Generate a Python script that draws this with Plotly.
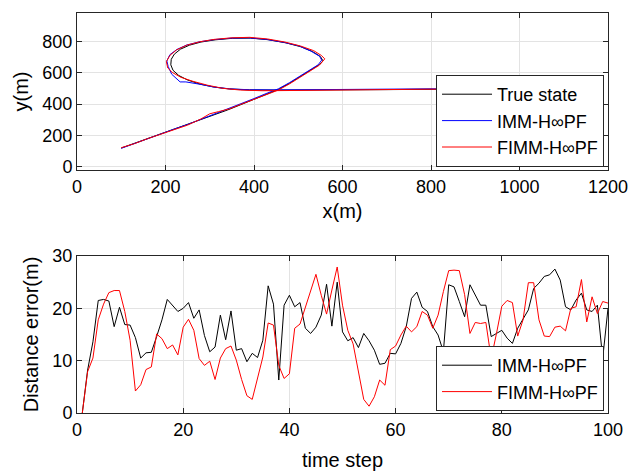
import plotly.graph_objects as go

# ---------------- top plot: trajectories ----------------
true_x = [100,130,160,190,220,250,280,310,340,370,400,430,455,480,505,530,548,556,550,532,506,472,432,392,352,312,280,254,234,220,213,212,217,230,250,278,310,345,390,450,500,600,700,800,900,1000,1030]
true_y = [120,150,180,212,240,268,300,330,362,396,432,466,493,532,576,622,652,675,703,735,765,790,810,820,819,809,795,775,750,718,685,650,615,582,553,527,508,496,490,489,489,490,492,494,495,496,496]

imm_x = [100,130,160,190,220,250,280,310,340,370,400,430,455,480,505,530,545,553,548,528,502,468,428,388,348,308,276,248,226,210,203,206,214,233,246,278,310,345,390,450,500,600,700,800,900,1012]
imm_y = [118,150,182,212,241,270,302,335,366,400,435,470,497,536,580,625,650,680,705,738,770,793,812,822,820,810,796,776,748,715,675,640,590,541,541,526,508,497,491,490,491,496,498,497,497,503]

fimm_x = [100,130,160,190,220,250,280,300,320,345,370,400,430,455,480,505,530,548,560,552,535,505,470,430,390,350,310,278,248,225,210,202,205,215,235,262,295,330,370,420,470,500,600,700,800,900,1009]
fimm_y = [122,148,180,210,238,266,305,338,352,370,398,430,462,489,528,572,617,648,688,710,740,770,795,815,825,822,812,797,775,745,710,670,630,602,570,545,520,500,489,485,486,487,490,493,495,495,497]

# ---------------- bottom plot: distance error ----------------
steps = list(range(1, 101))
err_imm = [0,8.2,13.6,21.5,21.7,21.4,16.5,20.2,16.9,16.8,
           14.4,10.5,11.5,11.6,14.6,17.8,21.7,20.5,19.4,20.0,
           21.1,18.1,19.7,14.8,11.7,12.6,18.7,14.0,19.5,12.0,
           12.3,9.8,11.4,10.6,13.9,24.3,20.8,6.3,20.6,22.5,
           20.3,21.1,16.2,15.2,16.4,18.7,24.6,16.6,25.0,15.5,
           13.8,14.4,12.5,15.2,13.8,12.0,9.3,9.5,11.4,11.3,
           13.3,16.5,21.9,23.1,20.2,19.4,16.5,14.9,11.7,24.5,
           24.1,21.3,18.4,24.5,22.6,20.6,20.6,14.6,15.2,15.8,
           14.3,13.3,16.2,18.1,19.7,23.8,24.8,26.1,26.4,27.5,
           25.4,20.3,19.7,21.6,22.9,19.7,19.4,20.6,10.4,20.0]
err_fimm = [0,7.9,10.5,17.8,20.8,23.0,23.4,23.4,19.4,13.9,
            4.2,5.4,8.3,8.8,15.1,14.2,12.3,13.0,11.1,16.4,
            17.9,15.8,10.4,9.1,9.9,6.4,10.5,12.3,12.8,10.1,
            6.4,3.3,2.6,6.6,10.7,17.2,16.8,9.1,6.6,7.5,
            16.2,17.0,20.2,23.5,26.5,22.5,18.9,23.5,27.9,20.6,
            15.8,13.2,7.5,2.6,1.3,3.1,6.3,5.3,12.1,12.8,
            14.9,16.6,15.5,16.5,19.4,18.7,16.2,18.7,23.2,27.2,
            27.3,27.2,22.6,15.2,17.3,17.1,17.3,10.4,15.2,20.4,
            21.5,21.1,14.7,17.8,24.9,24.9,17.8,14.7,14.6,16.4,
            16.6,15.7,20.0,20.3,25.5,17.4,22.2,19.0,21.3,21.0]

top_xticks = [0, 200, 400, 600, 800, 1000, 1200]
top_yticks = [0, 200, 400, 600, 800]
bot_xticks = [0, 20, 40, 60, 80, 100]
bot_yticks = [0, 10, 20, 30]

FONT = "Liberation Sans, Arial, Helvetica, sans-serif"
AX = "#262626"
GRID = "#e3e3e3"

fig = go.Figure()
fig.add_trace(go.Scatter(x=true_x, y=true_y, mode="lines", name="True state",
                         line=dict(color="#000000", width=1), xaxis="x", yaxis="y", legend="legend"))
fig.add_trace(go.Scatter(x=imm_x, y=imm_y, mode="lines", name="IMM-H∞PF",
                         line=dict(color="#0000ff", width=1), xaxis="x", yaxis="y", legend="legend"))
fig.add_trace(go.Scatter(x=fimm_x, y=fimm_y, mode="lines", name="FIMM-H∞PF",
                         line=dict(color="#ff0000", width=1), xaxis="x", yaxis="y", legend="legend"))
fig.add_trace(go.Scatter(x=steps, y=err_imm, mode="lines", name="IMM-H∞PF",
                         line=dict(color="#000000", width=1), xaxis="x2", yaxis="y2", legend="legend2"))
fig.add_trace(go.Scatter(x=steps, y=err_fimm, mode="lines", name="FIMM-H∞PF",
                         line=dict(color="#ff0000", width=1), xaxis="x2", yaxis="y2", legend="legend2"))

axcommon = dict(showline=True, linecolor=AX, linewidth=1, mirror="ticks", automargin=False,
                ticks="inside", ticklen=5, tickcolor=AX, showgrid=True, gridcolor=GRID,
                gridwidth=1, zeroline=False, tickfont=dict(size=18, color="#000000", family=FONT))

fig.update_layout(
    width=630, height=473,
    margin=dict(l=77, r=22, t=13, b=60),
    paper_bgcolor="white", plot_bgcolor="white",
    font=dict(family=FONT, color="#000000"),
    showlegend=True,
    xaxis=dict(domain=[0, 1], anchor="y", range=[0, 1200], tickvals=top_xticks,
               title=dict(text="x(m)", font=dict(size=20), standoff=8), **axcommon),
    yaxis=dict(domain=[0.6075, 1.0], anchor="x", range=[-20, 980], tickvals=top_yticks,
               title=dict(text="y(m)", font=dict(size=20), standoff=8), **axcommon),
    xaxis2=dict(domain=[0, 1], anchor="y2", range=[0, 100], tickvals=bot_xticks,
                title=dict(text="time step", font=dict(size=20), standoff=14), **axcommon),
    yaxis2=dict(domain=[0, 0.3925], anchor="x2", range=[0, 30], tickvals=bot_yticks,
                title=dict(text="Distance error(m)", font=dict(size=20), standoff=8), **axcommon),
    legend=dict(x=0.9925, y=0.615, xanchor="right", yanchor="bottom",
                bgcolor="white", bordercolor=AX, borderwidth=1,
                font=dict(size=18, family=FONT), tracegroupgap=0, itemwidth=50),
    legend2=dict(x=0.9925, y=0.005, xanchor="right", yanchor="bottom",
                 bgcolor="white", bordercolor=AX, borderwidth=1,
                 font=dict(size=18, family=FONT), tracegroupgap=0, itemwidth=50),
)

fig.write_html("out.html")
